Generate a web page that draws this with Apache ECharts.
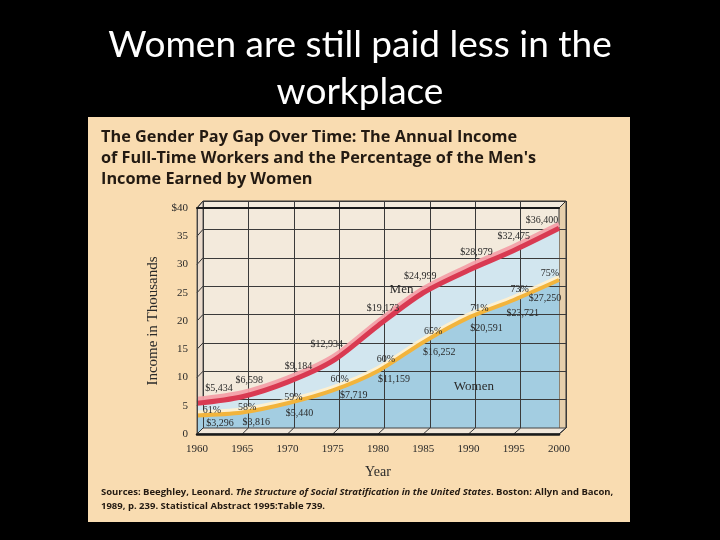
<!DOCTYPE html>
<html>
<head>
<meta charset="utf-8">
<script src="https://cdn.jsdelivr.net/npm/echarts@6/dist/echarts.min.js"></script>
<style>
html, body { margin: 0; background: #000; }
#main { width: 720px; height: 540px; }
</style>
</head>
<body>
<div id="main"></div>
<script>
// data (income in dollars)
var years = [1960, 1965, 1970, 1975, 1980, 1985, 1990, 1995, 2000];
var menIncome = [5434, 6598, 9184, 12934, 19173, 24999, 28979, 32475, 36400];
var womenIncome = [3296, 3816, 5440, 7719, 11159, 16252, 20591, 23721, 27250];
var womenPct = [61, 58, 59, 60, 60, 65, 71, 73, 75];
var yTicks = [0, 5, 10, 15, 20, 25, 30, 35, 40];

// label nudges (px), one per year
var menLabelOffset = [[22, -15], [7, -16], [11, -16], [-6, -17], [5, -17], [-3, -16], [8, -18], [0, -14], [-17, -8]];
var pctLabelOffset = [[15, -5], [5, -5], [6, -6], [7, -11], [8, -12], [10, -11], [11, -9], [6, -11], [-9, -7]];
var womenLabelOffset = [[23, 8], [14, 10], [12, 10], [21, 5], [16, 8], [16, 10], [18, 11], [9, 13], [-14, 18]];

var serif = "'Liberation Serif', 'DejaVu Serif', serif";
var sans = "'Open Sans', Lato, sans-serif";

function money(v) {
  return "$" + v.toLocaleString("en-US");
}

function pts(arr) {
  var res = [];
  for (var i = 0; i < years.length; i++) res.push([years[i], arr[i] / 1000]);
  return res;
}

function labelled(arr, offs, fmt) {
  var res = [];
  for (var i = 0; i < years.length; i++) {
    res.push({
      value: [years[i], arr[i] / 1000],
      label: { show: true, position: "inside", offset: offs[i], formatter: fmt(i) }
    });
  }
  return res;
}

var labelStyle = { color: "#2a2a2a", fontFamily: serif, fontSize: 10 };

var chartDom = document.getElementById("main");
var myChart = echarts.init(chartDom);

var option = {
  backgroundColor: "#000",
  animation: false,
  title: {
    text: "The Gender Pay Gap Over Time: The Annual Income\nof Full-Time Workers and the Percentage of the Men's\nIncome Earned by Women",
    left: 96,
    top: 122,
    textStyle: { color: "#231a12", fontFamily: sans, fontWeight: "bold", fontSize: 16.3, lineHeight: 21 }
  },
  graphic: [
    {
      id: "panel", type: "rect", z: -10,
      shape: { x: 88, y: 117, width: 542, height: 405 },
      style: { fill: "#f9dcb1" }
    },
    {
      id: "slideTitle", type: "text", x: 360, y: 22, z: 10,
      style: {
        text: "Women are still paid less in the\nworkplace",
        fill: "#fff", font: "37px Lato, sans-serif", lineHeight: 47, align: "center"
      }
    },
    {
      id: "sources", type: "text", left: 101, top: 487, z: 10,
      style: {
        text: "{b|Sources: Beeghley, Leonard. }{i|The Structure of Social Stratification in the United States}{b|. Boston: Allyn and Bacon,}\n{b|1989, p. 239. Statistical Abstract 1995:Table 739.}",
        rich: {
          b: { fill: "#231a12", font: "bold 9.5px " + sans, lineHeight: 14 },
          i: { fill: "#231a12", font: "italic bold 9.5px " + sans, lineHeight: 14 }
        }
      }
    }
  ],
  grid: [
    // back wall with the grid lines
    { left: 203, right: 154, top: 201, bottom: 112, show: true, backgroundColor: "#f3eadc", borderColor: "#333", borderWidth: 1 },
    // front plane carrying the data and the labels
    { left: 197, right: 161, top: 208, bottom: 106 }
  ],
  xAxis: [
    {
      gridIndex: 0, type: "value", min: 1960, max: 2000, interval: 5, z: 3,
      axisLine: { show: false }, axisTick: { show: false }, axisLabel: { show: false },
      splitLine: { lineStyle: { color: "#3a3a3a", width: 1 } }
    },
    {
      gridIndex: 1, type: "value", min: 1960, max: 2000, interval: 5, z: 6,
      name: "Year", nameLocation: "middle", nameGap: 31,
      nameTextStyle: { color: "#2a2a2a", fontFamily: serif, fontSize: 14 },
      axisLine: { lineStyle: { color: "#1a1a1a", width: 2.5 } }, axisTick: { show: false },
      axisLabel: { color: "#2a2a2a", fontFamily: serif, fontSize: 11, margin: 10, formatter: function (v) { return String(v); } },
      splitLine: { show: false }
    },
    {
      // thick front edge along the top of the box
      gridIndex: 1, type: "value", min: 1960, max: 2000, position: "top", z: 6,
      axisLine: { lineStyle: { color: "#1a1a1a", width: 2 } }, axisTick: { show: false },
      axisLabel: { show: false }, splitLine: { show: false }
    }
  ],
  yAxis: [
    {
      gridIndex: 0, type: "value", min: 0, max: 40, interval: 5, z: 3,
      axisLine: { show: false }, axisTick: { show: false }, axisLabel: { show: false },
      splitLine: { lineStyle: { color: "#3a3a3a", width: 1 } }
    },
    {
      gridIndex: 1, type: "value", min: 0, max: 40, interval: 5, z: 6,
      name: "Income in Thousands", nameLocation: "middle", nameGap: 33, nameRotate: 90,
      nameTextStyle: { color: "#2a2a2a", fontFamily: serif, fontSize: 15 },
      axisLine: { show: true, lineStyle: { color: "#444", width: 1 } }, axisTick: { show: false },
      axisLabel: {
        color: "#2a2a2a", fontFamily: serif, fontSize: 11, margin: 9,
        formatter: function (v) { return v === 40 ? "$40" : String(v); }
      },
      splitLine: { show: false }
    }
  ],
  series: [
    {
      name: "Men area", type: "line", xAxisIndex: 1, yAxisIndex: 1, smooth: 0.3, z: 1,
      symbol: "none", lineStyle: { width: 0 }, areaStyle: { color: "#d2e6ef", opacity: 1 },
      silent: true, data: pts(menIncome)
    },
    {
      name: "Women area", type: "line", xAxisIndex: 1, yAxisIndex: 1, smooth: 0.3, z: 1,
      symbol: "none", lineStyle: { width: 0 }, areaStyle: { color: "#a3cde1", opacity: 1 },
      silent: true, data: pts(womenIncome)
    },
    {
      name: "Men", type: "line", xAxisIndex: 1, yAxisIndex: 1, smooth: 0.3, z: 5,
      symbol: "circle", symbolSize: 0.1, itemStyle: { color: "#d93a52" },
      lineStyle: { color: "#d93a52", width: 5, shadowColor: "rgba(243,160,168,0.95)", shadowOffsetY: -4, shadowBlur: 0 },
      label: labelStyle,
      data: labelled(menIncome, menLabelOffset, function (i) { return money(menIncome[i]); })
    },
    {
      name: "Women", type: "line", xAxisIndex: 1, yAxisIndex: 1, smooth: 0.3, z: 5,
      symbol: "circle", symbolSize: 0.1, itemStyle: { color: "#f2b43c" },
      lineStyle: { color: "#f2b43c", width: 4, shadowColor: "rgba(255,240,205,0.95)", shadowOffsetY: -3, shadowBlur: 0 },
      label: labelStyle,
      data: labelled(womenIncome, pctLabelOffset, function (i) { return womenPct[i] + "%"; })
    },
    {
      name: "Women income", type: "line", xAxisIndex: 1, yAxisIndex: 1, smooth: 0.3, z: 6,
      symbol: "circle", symbolSize: 0.1, itemStyle: { color: "rgba(0,0,0,0)" },
      lineStyle: { width: 0 }, silent: true,
      label: labelStyle,
      data: labelled(womenIncome, womenLabelOffset, function (i) { return money(womenIncome[i]); })
    }
  ]
};

myChart.setOption(option);

// 3-D box sides, drawn from the two planes, plus series names inside the plot
var extra = [];
var b0 = myChart.convertToPixel({ gridIndex: 0 }, [1960, 0]);
var b1 = myChart.convertToPixel({ gridIndex: 0 }, [2000, 40]);
var f0 = myChart.convertToPixel({ gridIndex: 1 }, [1960, 0]);
var f1 = myChart.convertToPixel({ gridIndex: 1 }, [2000, 40]);

extra.push({
  id: "leftWall", type: "polygon", z: 0,
  shape: { points: [[f0[0], f1[1]], [b0[0], b1[1]], [b0[0], b0[1]], [f0[0], f0[1]]] },
  style: { fill: "#eadbcc", stroke: "#555", lineWidth: 1 }
});
extra.push({
  id: "rightWall", type: "polygon", z: 0,
  shape: { points: [[f1[0], f1[1]], [b1[0], b1[1]], [b1[0], b0[1]], [f1[0], f0[1]]] },
  style: { fill: "#e6cfac", stroke: "#333", lineWidth: 1 }
});
extra.push({
  id: "floor", type: "polygon", z: 4,
  shape: { points: [[f0[0], f0[1]], [b0[0], b0[1]], [b1[0], b0[1]], [f1[0], f0[1]]] },
  style: { fill: "#f1e7da", stroke: "#444", lineWidth: 1 }
});
for (var i = 0; i < years.length; i++) {
  var pb = myChart.convertToPixel({ gridIndex: 0 }, [years[i], 0]);
  var pf = myChart.convertToPixel({ gridIndex: 1 }, [years[i], 0]);
  extra.push({
    id: "floorTick" + i, type: "line", z: 4,
    shape: { x1: pb[0], y1: pb[1], x2: pf[0], y2: pf[1] },
    style: { stroke: "#333", lineWidth: 1 }
  });
}
for (var j = 0; j < yTicks.length; j++) {
  var qb = myChart.convertToPixel({ gridIndex: 0 }, [1960, yTicks[j]]);
  var qf = myChart.convertToPixel({ gridIndex: 1 }, [1960, yTicks[j]]);
  extra.push({
    id: "wallTick" + j, type: "line", z: 4,
    shape: { x1: qb[0], y1: qb[1], x2: qf[0], y2: qf[1] },
    style: { stroke: "#333", lineWidth: 1 }
  });
}
var menAt = myChart.convertToPixel({ gridIndex: 1 }, [1982.6, 25.6]);
var womenAt = myChart.convertToPixel({ gridIndex: 1 }, [1990.6, 8.4]);
extra.push({
  id: "menName", type: "text", x: menAt[0], y: menAt[1], z: 20,
  style: { text: "Men", fill: "#2a2a2a", font: "13px " + serif, align: "center", verticalAlign: "middle" }
});
extra.push({
  id: "womenName", type: "text", x: womenAt[0], y: womenAt[1], z: 20,
  style: { text: "Women", fill: "#2a2a2a", font: "13px " + serif, align: "center", verticalAlign: "middle" }
});
myChart.setOption({ graphic: extra });
</script>
</body>
</html>
